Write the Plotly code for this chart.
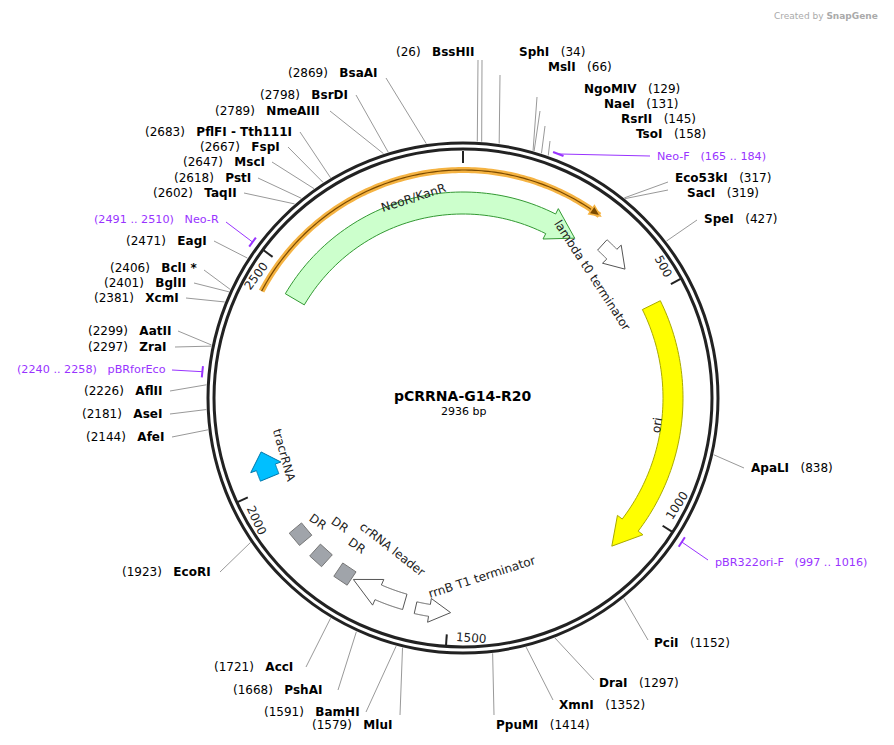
import math
import plotly.graph_objects as go

TOTAL = 2936
CX, CY = 463, 398
R_OUT, R_IN = 255, 249

# Features
feat_names = ["NeoR/KanR", "lambda t0 terminator", "ori", "rrnB T1 terminator", "crRNA leader", "tracrRNA"]
feat_start = [2450, 345, 520, 1495, 1598, 2020]
feat_end = [285, 420, 1100, 1572, 1722, 2080]
feat_dir = [1, 1, 1, -1, 1, 1]
feat_fill = ["#ccffcc", "#ffffff", "#ffff00", "#ffffff", "#ffffff", "#00bfff"]
feat_line = ["#339933", "#555555", "#aaaa00", "#555555", "#555555", "#0077aa"]
dr_pos = [1744, 1811, 1876]

site_names = ["BssHII", "SphI", "MslI", "NgoMIV", "NaeI", "RsrII", "TsoI", "Neo-F", "Eco53kI", "SacI", "SpeI",
              "ApaLI", "pBR322ori-F", "PciI", "DraI", "XmnI", "PpuMI", "MluI", "BamHI", "PshAI", "AccI", "EcoRI",
              "AfeI", "AseI", "AflII", "pBRforEco", "ZraI", "AatII", "XcmI", "BglII", "BclI *", "EagI", "Neo-R",
              "TaqII", "PstI", "MscI", "FspI", "PflFI - Tth111I", "NmeAIII", "BsrDI", "BsaAI"]
site_pos = [26, 34, 66, 129, 131, 145, 158, 174, 317, 319, 427, 838, 1006, 1152, 1297, 1352, 1414, 1579, 1591,
            1668, 1721, 1923, 2144, 2181, 2226, 2249, 2297, 2299, 2381, 2401, 2406, 2471, 2500, 2602, 2618, 2647,
            2667, 2683, 2789, 2798, 2869]
site_range = ["26", "34", "66", "129", "131", "145", "158", "165 .. 184", "317", "319", "427", "838", "997 .. 1016",
              "1152", "1297", "1352", "1414", "1579", "1591", "1668", "1721", "1923", "2144", "2181", "2226",
              "2240 .. 2258", "2297", "2299", "2381", "2401", "2406", "2471", "2491 .. 2510", "2602", "2618",
              "2647", "2667", "2683", "2789", "2798", "2869"]
primers = {"Neo-F", "pBR322ori-F", "pBRforEco", "Neo-R"}
label_xy = [(476, 52, 'l'), (517, 52, 'r'), (546, 67, 'r'), (582, 89, 'r'), (602, 104, 'r'), (619, 119, 'r'),
            (634, 134, 'r'), (655, 156, 'r'), (673, 178, 'r'), (685, 193, 'r'), (702, 219, 'r'), (749, 468, 'r'),
            (713, 562, 'r'), (652, 643, 'r'), (597, 683, 'r'), (557, 705, 'r'), (494, 725, 'r'), (394, 725, 'l'),
            (362, 712, 'l'), (324, 690, 'l'), (295, 667, 'l'), (213, 572, 'l'), (166, 437, 'l'), (164, 414, 'l'),
            (164, 391, 'l'), (168, 369, 'l'), (169, 347, 'l'), (173, 331, 'l'), (181, 298, 'l'), (188, 283, 'l'),
            (199, 268, 'l'), (209, 241, 'l'), (221, 219, 'l'), (239, 193, 'l'), (253, 178, 'l'), (267, 162, 'l'),
            (282, 147, 'l'), (294, 132, 'l'), (322, 111, 'l'), (350, 95, 'l'), (380, 73, 'l')]
line_end = [(478, 60), (482, 60), (500, 75), (537, 97), (540, 111), (545, 126), (550, 141), (650, 156),
            (668, 182), (668, 190), (697, 220), (744, 468), (708, 560), (648, 640), (594, 680), (553, 700),
            (494, 715), (400, 715), (366, 712), (338, 690), (306, 667), (220, 572), (172, 437), (170, 414),
            (170, 391), (172, 370), (175, 347), (178, 331), (186, 298), (194, 283), (204, 270), (214, 241),
            (226, 222), (244, 193), (258, 178), (272, 162), (288, 147), (300, 132), (330, 111), (356, 95),
            (386, 78)]

tick_vals = [500, 1000, 1500, 2000, 2500]


def ang(p):
    return p / TOTAL * 2 * math.pi


def pt(p, r):
    a = ang(p)
    return CX + r * math.sin(a), CY - r * math.cos(a)


def arc_pts(p0, p1, r, n=60):
    return [pt(p0 + (p1 - p0) * i / n, r) for i in range(n + 1)]


def path_from(pts, close=True):
    s = "M " + " L ".join(f"{x:.2f},{y:.2f}" for x, y in pts)
    return s + (" Z" if close else "")


def norm_angle(d):
    while d > 90:
        d -= 180
    while d < -90:
        d += 180
    return d


shapes = []
ann = []


def arrow(p0, p1, r, w, d, fill, line):
    if p1 < p0:
        p1 += TOTAL
    head = min(28 / (2 * math.pi * r) * TOTAL, (p1 - p0) * 0.6)
    if d == 1:
        b0, b1, tip = p0, p1 - head, p1
    else:
        b0, b1, tip = p0 + head, p1, p0
    outer = arc_pts(b0, b1, r + w / 2)
    inner = arc_pts(b1, b0, r - w / 2)
    hw = w / 2 + 6
    if d == 1:
        pts = outer + [pt(b1, r + hw), pt(tip, r), pt(b1, r - hw)] + inner
    else:
        pts = [pt(tip, r), pt(b0, r + hw)] + outer + inner + [pt(b0, r - hw)]
    shapes.append(dict(type="path", path=path_from(pts), fillcolor=fill, line=dict(color=line, width=1)))


p_a, p_b = 2430, 300 + TOTAL
hl = arc_pts(p_a, p_b, 228, 120)
shapes.append(dict(type="path", path=path_from(hl, False), line=dict(color="#f5b342", width=6)))
shapes.append(dict(type="path", path=path_from(hl, False), line=dict(color="#7a4a00", width=1.2)))
hh = [pt(p_b - 20, 233), pt(p_b + 2, 228), pt(p_b - 20, 223)]
shapes.append(dict(type="path", path=path_from(hh), fillcolor="#7a4a00", line=dict(color="#f5b342", width=1.5)))

rad = [195, 207, 210, 215, 212, 209]
wid = [22, 14, 20, 12, 16, 20]
for i in range(len(feat_names)):
    arrow(feat_start[i], feat_end[i], rad[i], wid[i], feat_dir[i], feat_fill[i], feat_line[i])

for p in dr_pos:
    a = ang(p)
    c = pt(p, 212)
    s = 8
    ux, uy = math.cos(a), math.sin(a)
    rx, ry = -math.sin(a), math.cos(a)
    corners = [(c[0] + s * (ux * i + rx * j), c[1] + s * (uy * i + ry * j)) for i, j in [(1, 1), (1, -1), (-1, -1), (-1, 1)]]
    shapes.append(dict(type="path", path=path_from(corners), fillcolor="#a0a4aa", line=dict(color="#777", width=1)))

for i, name in enumerate(site_names):
    prim = name in primers
    col = "#9933ff" if prim else "#999999"
    r0 = 262 if prim else R_OUT + 2
    x0, y0 = pt(site_pos[i], r0)
    x1, y1 = line_end[i]
    shapes.append(dict(type="line", x0=x0, y0=y0, x1=x1, y1=y1, line=dict(color=col, width=1)))
    if prim:
        a0, a1 = pt(site_pos[i] - 10, 262), pt(site_pos[i] + 10, 262)
        shapes.append(dict(type="line", x0=a0[0], y0=a0[1], x1=a1[0], y1=a1[1], line=dict(color=col, width=2)))
    lx, ly, side = label_xy[i]
    if prim:
        rng = f"({site_range[i]})"
        txt = f"{name}   {rng}" if side == 'r' else f"{rng}   {name}"
        ann.append(dict(x=lx, y=ly, text=txt, showarrow=False, xanchor="left" if side == 'r' else "right",
                        font=dict(color="#9933ff", size=11.2)))
    else:
        txt = f"<b>{name}</b>   ({site_range[i]})" if side == 'r' else f"({site_range[i]})   <b>{name}</b>"
        ann.append(dict(x=lx, y=ly, text=txt, showarrow=False, xanchor="left" if side == 'r' else "right",
                        font=dict(color="black", size=12)))

for r in (R_OUT, R_IN):
    shapes.append(dict(type="circle", x0=CX - r, x1=CX + r, y0=CY - r, y1=CY + r, line=dict(color="#222", width=3)))
shapes.append(dict(type="line", x0=CX, y0=CY - R_IN + 2, x1=CX, y1=CY - R_IN + 14, line=dict(color="#222", width=2)))
for t in tick_vals:
    x0, y0 = pt(t, R_IN)
    x1, y1 = pt(t, R_IN - 12)
    shapes.append(dict(type="line", x0=x0, y0=y0, x1=x1, y1=y1, line=dict(color="#222", width=2)))
    deg = norm_angle(t / TOTAL * 360)
    off = 7 * len(str(t)) / (2 * math.pi * 240) * TOTAL * 0.9
    lx, ly = pt(t - off, 240)
    ann.append(dict(x=lx, y=ly, text=str(t), showarrow=False, textangle=deg, font=dict(size=12, color="#222")))

feat_lbl = [("NeoR/KanR", 413, 198, -18), ("lambda t0 terminator", 592, 275, 57), ("ori", 657, 425, -81),
            ("rrnB T1 terminator", 482, 577, -18), ("crRNA leader", 392, 549, 38), ("tracrRNA", 284, 455, 74),
            ("DR", 318, 522, 35), ("DR", 340, 525, 35), ("DR", 357, 546, 35)]
for t, x, y, a in feat_lbl:
    ann.append(dict(x=x, y=y, text=t, showarrow=False, textangle=a, font=dict(size=12, color="#222")))

ann.append(dict(x=CX, y=396, text="<b>pCRRNA-G14-R20</b>", showarrow=False, font=dict(size=14, color="black")))
ann.append(dict(x=CX, y=411, text="2936 bp", showarrow=False, font=dict(size=11, color="black")))
ann.append(dict(x=880, y=16, text="Created by <b>SnapGene</b>", showarrow=False, xanchor="right",
                font=dict(size=9, color="#aaaaaa")))

# page body has an 8px margin: offset the ranges so screen pixels match data pixels
OFF = 8
fig = go.Figure()
fig.update_layout(width=894, height=745, margin=dict(l=0, r=0, t=0, b=0), plot_bgcolor="white",
                  paper_bgcolor="white", shapes=shapes, annotations=ann, showlegend=False,
                  font=dict(family="DejaVu Sans"),
                  xaxis=dict(range=[OFF, 894 + OFF], visible=False, fixedrange=True),
                  yaxis=dict(range=[745 + OFF, OFF], visible=False, fixedrange=True))
fig.write_html("out.html")
